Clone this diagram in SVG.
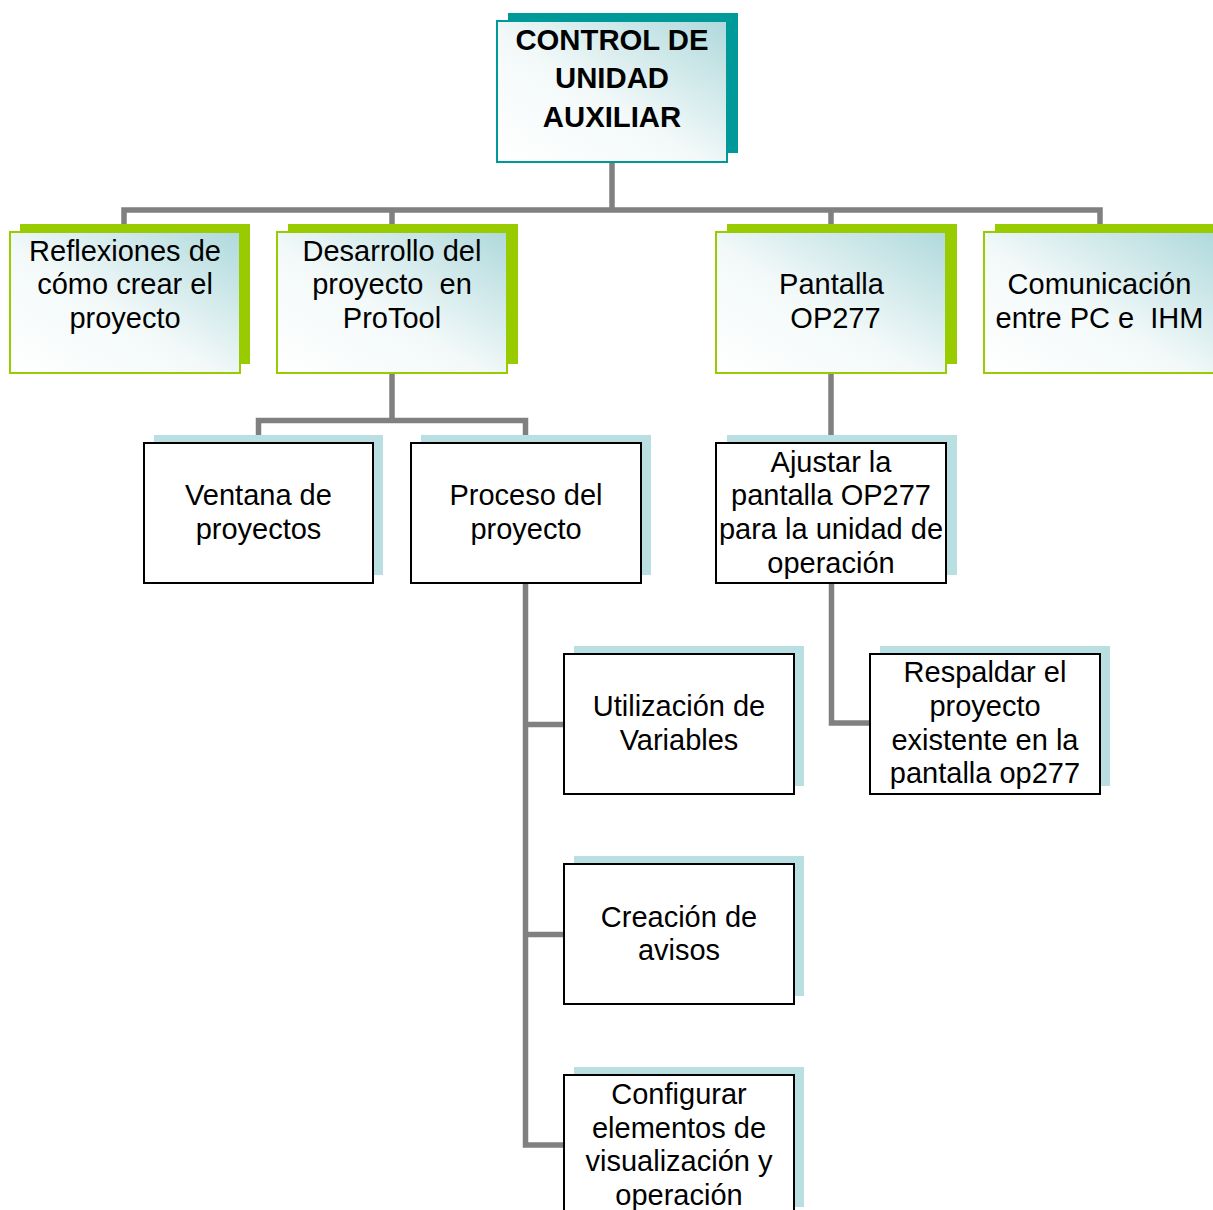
<svg xmlns="http://www.w3.org/2000/svg" width="1213" height="1210" viewBox="0 0 1213 1210">
<defs>
<linearGradient id="grad" x1="0" y1="1" x2="1" y2="0">
<stop offset="0" stop-color="#ffffff"/>
<stop offset="0.45" stop-color="#f3f9f9"/>
<stop offset="1" stop-color="#afd9dc"/>
</linearGradient>
<style>
.conn{fill:none;stroke:#808080;stroke-width:5.5;stroke-linejoin:miter}
.sh-top{fill:#009999}
.sh-l1{fill:#99cc00}
.sh-l2{fill:#b9dfe3}
.box-top{fill:url(#grad);stroke:#009999;stroke-width:2}
.box-l1{fill:url(#grad);stroke:#99cc00;stroke-width:2}
.box-l2{fill:#ffffff;stroke:#000000;stroke-width:2}
text{font-family:"Liberation Sans",Arial,sans-serif;font-size:29px;fill:#000;text-anchor:middle;white-space:pre}
.bold{font-weight:bold;font-size:29.3px}
</style>
</defs>
<rect width="1213" height="1210" fill="#ffffff"/>
<g id="connectors">
<path class="conn" d="M612 162 V210 M124 226 V210 H1100 V226 M392 210 V226 M831 210 V226"/>
<path class="conn" d="M392 373 V420.5 M258.5 437 V420.5 H525.5 V437"/>
<path class="conn" d="M831 373 V443"/>
<path class="conn" d="M525.5 583 V1145 H564 M525.5 724.5 H564 M525.5 934.5 H564"/>
<path class="conn" d="M831.5 583 V723 H870"/>
</g>
<g id="node-control">
<rect class="sh-top" x="508" y="13" width="230" height="140"/>
<rect class="box-top" x="497" y="21" width="230" height="141"/>
<text class="bold" x="612" y="50">CONTROL DE</text>
<text class="bold" x="612" y="88">UNIDAD</text>
<text class="bold" x="612" y="127">AUXILIAR</text>
</g>
<g id="node-reflexiones">
<rect class="sh-l1" x="20" y="224" width="230" height="140"/>
<rect class="box-l1" x="10" y="232" width="230" height="141"/>
<text x="125" y="261">Reflexiones de</text>
<text x="125" y="294">cómo crear el</text>
<text x="125" y="328">proyecto</text>
</g>
<g id="node-desarrollo">
<rect class="sh-l1" x="288" y="224" width="230" height="140"/>
<rect class="box-l1" x="277" y="232" width="230" height="141"/>
<text x="392" y="261">Desarrollo del</text>
<text x="392" y="294" xml:space="preserve">proyecto  en</text>
<text x="392" y="328">ProTool</text>
</g>
<g id="node-pantalla">
<rect class="sh-l1" x="727" y="224" width="230" height="140"/>
<rect class="box-l1" x="716" y="232" width="230" height="141"/>
<text x="831.5" y="294">Pantalla</text>
<text x="835.5" y="328">OP277</text>
</g>
<g id="node-comunicacion">
<rect class="sh-l1" x="995" y="224" width="230" height="140"/>
<rect class="box-l1" x="984" y="232" width="230" height="141"/>
<text x="1099.5" y="294">Comunicación</text>
<text x="1099.5" y="328" xml:space="preserve">entre PC e  IHM</text>
</g>
<g id="node-ventana">
<rect class="sh-l2" x="154" y="435" width="229" height="140"/>
<rect class="box-l2" x="144" y="443" width="229" height="140"/>
<text x="258.5" y="505">Ventana de</text>
<text x="258.5" y="539">proyectos</text>
</g>
<g id="node-proceso">
<rect class="sh-l2" x="421" y="435" width="230" height="140"/>
<rect class="box-l2" x="411" y="443" width="230" height="140"/>
<text x="526" y="505">Proceso del</text>
<text x="526" y="539">proyecto</text>
</g>
<g id="node-ajustar">
<rect class="sh-l2" x="727" y="435" width="230" height="140"/>
<rect class="box-l2" x="716" y="443" width="230" height="140"/>
<text x="831" y="472">Ajustar la</text>
<text x="831" y="505">pantalla OP277</text>
<text x="831" y="539">para la unidad de</text>
<text x="831" y="573">operación</text>
</g>
<g id="node-utilizacion">
<rect class="sh-l2" x="574" y="646" width="230" height="140"/>
<rect class="box-l2" x="564" y="654" width="230" height="140"/>
<text x="679" y="716">Utilización de</text>
<text x="679" y="750">Variables</text>
</g>
<g id="node-respaldar">
<rect class="sh-l2" x="880" y="646" width="230" height="140"/>
<rect class="box-l2" x="870" y="654" width="230" height="140"/>
<text x="985" y="682">Respaldar el</text>
<text x="985" y="716">proyecto</text>
<text x="985" y="750">existente en la</text>
<text x="985" y="783">pantalla op277</text>
</g>
<g id="node-creacion">
<rect class="sh-l2" x="574" y="856" width="230" height="140"/>
<rect class="box-l2" x="564" y="864" width="230" height="140"/>
<text x="679" y="927">Creación de</text>
<text x="679" y="960">avisos</text>
</g>
<g id="node-configurar">
<rect class="sh-l2" x="574" y="1067" width="230" height="140"/>
<rect class="box-l2" x="564" y="1075" width="230" height="140"/>
<text x="679" y="1104">Configurar</text>
<text x="679" y="1138">elementos de</text>
<text x="679" y="1171">visualización y</text>
<text x="679" y="1205">operación</text>
</g>
</svg>
